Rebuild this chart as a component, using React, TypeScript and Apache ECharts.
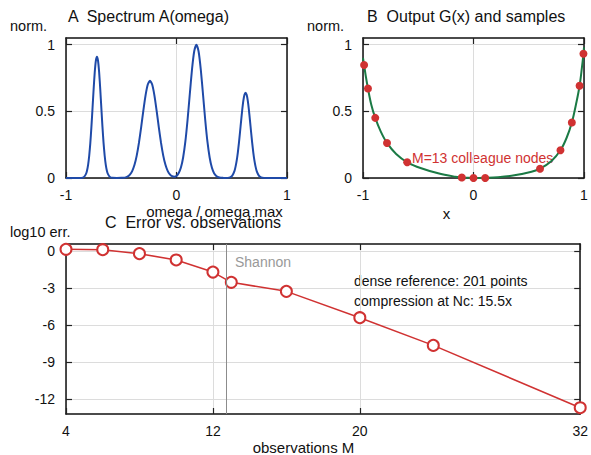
import React, { useEffect, useRef } from "react";
import * as echarts from "echarts";

// Panel A: spectrum A(omega) as [omega/omega_max, norm]
const spectrum: [number, number][] = [
  [-1, 0], [-0.96, 0], [-0.92, 0], [-0.88, 0], [-0.86, 0.001], [-0.84, 0.006],
  [-0.82, 0.029], [-0.81, 0.055], [-0.8, 0.099], [-0.79, 0.167], [-0.78, 0.262],
  [-0.77, 0.383], [-0.76, 0.523], [-0.75, 0.666], [-0.74, 0.792], [-0.73, 0.879],
  [-0.72, 0.91], [-0.71, 0.879], [-0.7, 0.792], [-0.69, 0.666], [-0.68, 0.523],
  [-0.67, 0.383], [-0.66, 0.262], [-0.65, 0.167], [-0.64, 0.099], [-0.63, 0.055],
  [-0.62, 0.029], [-0.6, 0.006], [-0.58, 0.001], [-0.54, 0], [-0.5, 0.001],
  [-0.48, 0.002], [-0.46, 0.005], [-0.44, 0.012], [-0.42, 0.027], [-0.4, 0.054],
  [-0.38, 0.099], [-0.36, 0.168], [-0.34, 0.263], [-0.32, 0.38], [-0.3, 0.506],
  [-0.28, 0.62], [-0.26, 0.701], [-0.24, 0.73], [-0.22, 0.701], [-0.2, 0.62],
  [-0.18, 0.506], [-0.16, 0.38], [-0.14, 0.263], [-0.12, 0.168], [-0.1, 0.099],
  [-0.08, 0.054], [-0.06, 0.028], [-0.04, 0.014], [-0.02, 0.01], [0, 0.015],
  [0.02, 0.037], [0.04, 0.078], [0.06, 0.154], [0.08, 0.272], [0.1, 0.435],
  [0.12, 0.626], [0.14, 0.812], [0.16, 0.949], [0.18, 1.0], [0.2, 0.949],
  [0.22, 0.812], [0.24, 0.626], [0.26, 0.435], [0.28, 0.272], [0.3, 0.154],
  [0.32, 0.078], [0.34, 0.036], [0.36, 0.015], [0.38, 0.006], [0.4, 0.002],
  [0.42, 0.001], [0.44, 0], [0.465, 0.001], [0.485, 0.005], [0.505, 0.018],
  [0.525, 0.054], [0.535, 0.087], [0.545, 0.132], [0.555, 0.191], [0.565, 0.263],
  [0.575, 0.345], [0.585, 0.431], [0.595, 0.512], [0.605, 0.58], [0.615, 0.624],
  [0.625, 0.64], [0.635, 0.624], [0.645, 0.58], [0.655, 0.512], [0.665, 0.431],
  [0.675, 0.345], [0.685, 0.263], [0.695, 0.191], [0.705, 0.132], [0.715, 0.087],
  [0.725, 0.054], [0.745, 0.018], [0.765, 0.005], [0.785, 0.001], [0.82, 0],
  [0.9, 0], [1, 0],
];

// Panel B: output G(x) (dense curve) and the 13 sample nodes
const curveX = [-1.0, -0.99, -0.975, -0.955, -0.925, -0.889, -0.84, -0.783, -0.7, -0.6,
  -0.473, -0.32, -0.167, -0.106, -0.05, 0, 0.05, 0.106, 0.22, 0.37, 0.525, 0.602,
  0.706, 0.787, 0.842, 0.89, 0.933, 0.96, 0.98, 0.995, 1.0];
const curveY = [0.9, 0.847, 0.765, 0.671, 0.55, 0.451, 0.35, 0.263, 0.18, 0.118,
  0.073, 0.035, 0.01, 0.004, 0.001, 0, 0, 0.001, 0.006, 0.02, 0.047, 0.07,
  0.128, 0.208, 0.3, 0.416, 0.574, 0.692, 0.82, 0.932, 0.98];
const nodeX = [-0.99, -0.955, -0.889, -0.783, -0.6, -0.106, 0, 0.106, 0.602, 0.787, 0.89, 0.96, 0.995];
const nodeY = [0.847, 0.671, 0.451, 0.263, 0.118, 0.004, 0, 0, 0.07, 0.208, 0.416, 0.692, 0.932];

// Panel C: log10 error vs observations
const obsM = [4, 6, 8, 10, 12, 13, 16, 20, 24, 32];
const logErr = [0.12, 0.09, -0.23, -0.74, -1.72, -2.55, -3.28, -5.41, -7.65, -12.69];
const shannonM = 12.7;

// tick values
const abXTicks = [-1, 0, 1];
const abYTicks = [0, 0.5, 1];
const cXTicks = [4, 12, 20, 32];
const cYTicks = [0, -3, -6, -9, -12];

const FONT = "'Liberation Sans', Arial, Helvetica, sans-serif";
const FRAME = "#111";
const GRID = "#dcdcdc";
const RED = "#d03232";

function axis(dim: "x" | "y", gridIndex: number, primary: boolean, min: number, max: number, ticks: number[]) {
  const position = dim === "x" ? (primary ? "bottom" : "top") : primary ? "left" : "right";
  return {
    type: "value",
    gridIndex,
    position,
    min,
    max,
    axisLine: { show: true, onZero: false, lineStyle: { color: FRAME, width: 1.5 } },
    axisTick: {
      show: true,
      inside: true,
      length: 6,
      customValues: ticks,
      lineStyle: { color: "#222", width: 1.2 },
    },
    axisLabel: {
      show: primary,
      customValues: ticks,
      margin: dim === "x" ? 10 : 11,
      fontSize: 14,
      fontFamily: FONT,
      color: "#111",
    },
    splitLine: { show: primary, lineStyle: { color: GRID, width: 1 } },
  };
}

function txt(x: number, y: number, text: string, size: number, opts: any = {}) {
  return {
    type: "text",
    x,
    y,
    silent: true,
    style: {
      text,
      fill: opts.fill || "#111",
      font: `${size}px ${FONT}`,
      textAlign: opts.align || "left",
      textVerticalAlign: "middle",
    },
  };
}

export default function App() {
  const ref = useRef<HTMLDivElement>(null);
  useEffect(() => {
    if (!ref.current) return;
    const chart = echarts.init(ref.current, undefined, { renderer: "svg" });
    const option: any = {
      animation: false,
      backgroundColor: "#ffffff",
      grid: [
        { left: 66, top: 38, width: 221, height: 140 },
        { left: 363, top: 38, width: 221, height: 140 },
        { left: 66, top: 244, width: 518, height: 170 },
      ],
      xAxis: [
        axis("x", 0, true, -1, 1, abXTicks),
        axis("x", 0, false, -1, 1, abXTicks),
        axis("x", 1, true, -1, 1, abXTicks),
        axis("x", 1, false, -1, 1, abXTicks),
        axis("x", 2, true, 4, 32, cXTicks),
        axis("x", 2, false, 4, 32, cXTicks),
      ],
      yAxis: [
        axis("y", 0, true, 0, 1.05, abYTicks),
        axis("y", 0, false, 0, 1.05, abYTicks),
        axis("y", 1, true, 0, 1.05, abYTicks),
        axis("y", 1, false, 0, 1.05, abYTicks),
        axis("y", 2, true, -13.2, 0.55, cYTicks),
        axis("y", 2, false, -13.2, 0.55, cYTicks),
      ],
      series: [
        {
          type: "line",
          xAxisIndex: 0,
          yAxisIndex: 0,
          data: spectrum,
          showSymbol: false,
          smooth: 0.2,
          lineStyle: { color: "#1f4aa8", width: 2 },
        },
        {
          type: "line",
          xAxisIndex: 2,
          yAxisIndex: 2,
          data: curveX.map((x, i) => [x, curveY[i]]),
          showSymbol: false,
          smooth: 0.35,
          lineStyle: { color: "#1b7a45", width: 2 },
        },
        {
          type: "scatter",
          xAxisIndex: 2,
          yAxisIndex: 2,
          data: nodeX.map((x, i) => [x, nodeY[i]]),
          symbolSize: 8,
          clip: false,
          itemStyle: { color: RED, opacity: 1 },
          z: 5,
        },
        {
          type: "line",
          xAxisIndex: 4,
          yAxisIndex: 4,
          data: obsM.map((m, i) => [m, logErr[i]]),
          symbol: "emptyCircle",
          symbolSize: 11,
          clip: false,
          lineStyle: { color: RED, width: 1.5 },
          itemStyle: { color: RED, borderColor: RED, borderWidth: 1.4 },
          markLine: {
            silent: true,
            symbol: "none",
            label: { show: false },
            lineStyle: { color: "#8c8c8c", width: 1, type: "solid" },
            data: [{ xAxis: shannonM }],
          },
        },
      ],
      graphic: [
        txt(10, 25.5, "norm.", 14.5),
        txt(68, 16, "A  Spectrum A(omega)", 16),
        txt(307, 25.5, "norm.", 14.5),
        txt(367, 16, "B  Output G(x) and samples", 16),
        txt(214.5, 211.5, "omega / omega max", 15, { align: "center" }),
        txt(446.5, 213, "x", 15, { align: "center" }),
        txt(105, 222.8, "C  Error vs. observations", 16),
        txt(10, 231.7, "log10 err.", 14.5),
        txt(303.5, 447, "observations M", 15, { align: "center" }),
        txt(235, 261.8, "Shannon", 14, { fill: "#999999" }),
        txt(354, 280.5, "dense reference: 201 points", 14),
        txt(354, 300.5, "compression at Nc: 15.5x", 14),
        txt(412, 158.4, "M=13 colleague nodes", 14, { fill: RED }),
      ],
    };
    chart.setOption(option);
    return () => chart.dispose();
  }, []);
  return (
    <div
      ref={ref}
      style={{ position: "fixed", left: 0, top: 0, width: 591, height: 455, background: "#fff" }}
    />
  );
}
